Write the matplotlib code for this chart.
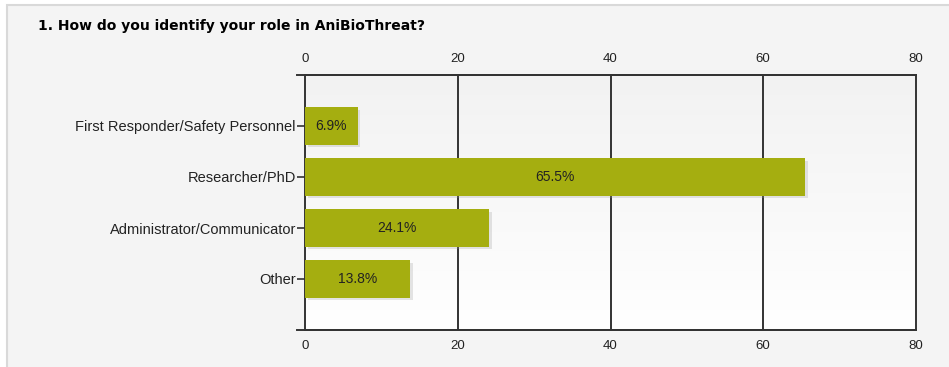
import matplotlib
matplotlib.use("Agg")
import matplotlib.pyplot as plt
import matplotlib.patheffects as pe
from matplotlib.patches import Rectangle
import numpy as np

roles = ["First Responder/Safety Personnel", "Researcher/PhD",
         "Administrator/Communicator", "Other"]
percent = [6.9, 65.5, 24.1, 13.8]
xticks = [0, 20, 40, 60, 80]

W, H = 949, 367
fig = plt.figure(figsize=(W / 100, H / 100), dpi=100)
fig.patch.set_facecolor("white")

# grey panel behind the whole chart, running off the right and bottom edges
panel = Rectangle((7 / W, -0.1), 1.2, 1.1 - 5 / H, transform=fig.transFigure,
                  facecolor="#f4f4f4", edgecolor="#d9d9d9", linewidth=1.5, zorder=-5)
fig.patches.append(panel)

fig.text(38 / W, 1 - 26 / H, "1. How do you identify your role in AniBioThreat?",
         fontsize=10, fontweight="bold", family="DejaVu Sans", va="center", ha="left")

left, right, top, bottom = 305 / W, 916 / W, 1 - 75 / H, 1 - 330 / H
ax = fig.add_axes([left, bottom, right - left, top - bottom], zorder=2)
ax.set_facecolor("none")

# plot area fades from light grey at the top to white at the bottom
grad = np.linspace(0, 1, 256).reshape(-1, 1)
ax.imshow(grad, cmap=matplotlib.colors.LinearSegmentedColormap.from_list(
    "bg", ["#f2f2f2", "#ffffff"]), extent=[0, 80, 4, -1], aspect="auto", zorder=0)

y = np.arange(len(roles))
bars = ax.barh(y, percent, height=0.73, color="#a5ae10", zorder=3)
for b in bars:
    b.set_path_effects([pe.SimplePatchShadow(offset=(2, -2), shadow_rgbFace="#999999",
                                             alpha=0.25), pe.Normal()])
for yi, v in zip(y, percent):
    ax.text(v / 2, yi, f"{v}%", ha="center", va="center", fontsize=10,
            family="Liberation Sans", color="#222222", zorder=4)

ax.set_xlim(0, 80)
ax.set_ylim(4, -1)

for x in xticks[1:-1]:
    ax.axvline(x, color="#333333", linewidth=1.4, zorder=1)
for s in ax.spines.values():
    s.set_color("#333333")
    s.set_linewidth(1.4)
# horizontal frame lines run a little past the zero line
for yy in (-1, 4):
    ax.axhline(yy, xmin=-0.013, xmax=1, color="#333333", linewidth=1.4,
               clip_on=False, zorder=5)

ax.set_xticks(xticks)
ax.tick_params(axis="x", top=True, labeltop=True, bottom=True, labelbottom=True,
               length=0, pad=7, labelsize=9.5, labelcolor="#222222")
ax.set_yticks(y)
ax.set_yticklabels(roles)
ax.tick_params(axis="y", length=6, width=1.2, color="#333333", pad=0.5,
               labelsize=10.5, labelcolor="#222222")
for lab in ax.get_xticklabels() + ax.get_yticklabels():
    lab.set_family("Liberation Sans")

fig.savefig("out.png", dpi=100)
